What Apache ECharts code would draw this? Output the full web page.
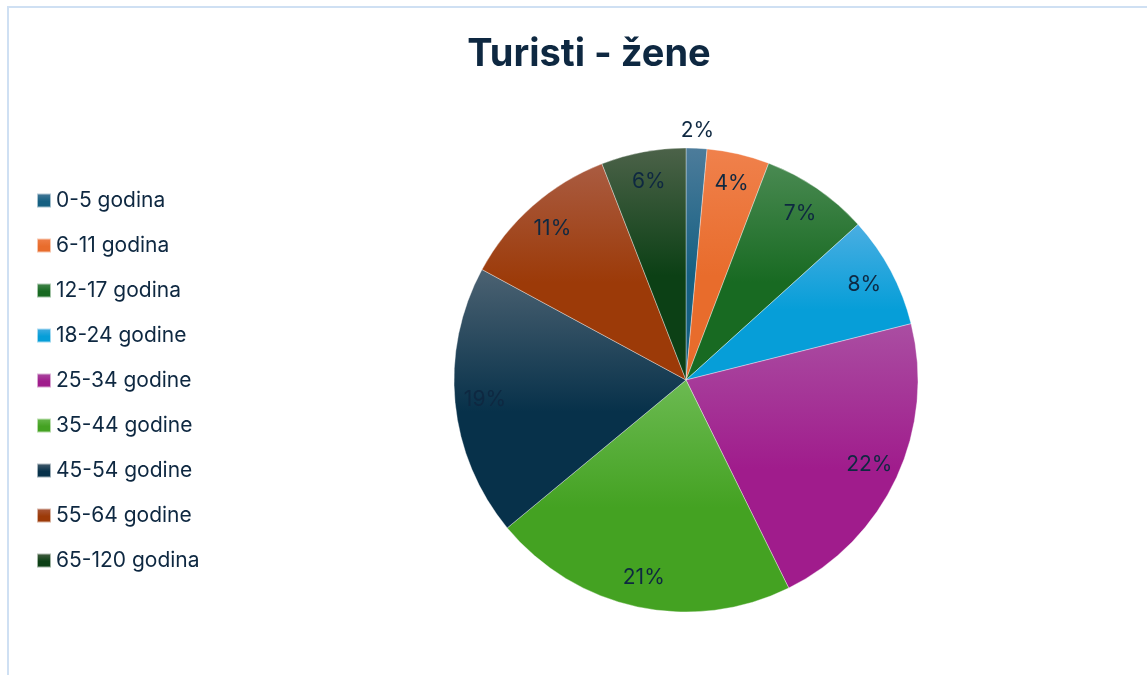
<!DOCTYPE html>
<html>
<head>
<meta charset="utf-8">
<script src="https://cdn.jsdelivr.net/npm/echarts@6/dist/echarts.min.js"></script>
<style>
  html, body { margin: 0; padding: 0; background: #fff; }
  #wrap { position: relative; width: 1147px; height: 675px; overflow: hidden; }
  #frame { position: absolute; left: 7px; top: 6px; width: 1200px; height: 700px;
           border-left: 2px solid #cfe0f3; border-top: 2px solid #cfe0f3; }
  #chart { position: absolute; left: 0; top: 0; width: 1147px; height: 675px; }
</style>
</head>
<body>
<div id="wrap">
  <div id="frame"></div>
  <div id="chart"></div>
</div>
<script>
// dobne skupine i udio (%)
const categories = ['0-5 godina', '6-11 godina', '12-17 godina', '18-24 godine', '25-34 godine',
                    '35-44 godine', '45-54 godine', '55-64 godine', '65-120 godina'];
const values = [1.45, 4.35, 7.5, 7.8, 21.6, 21.3, 18.9, 11.2, 5.9];
const labels = ['2%', '4%', '7%', '8%', '22%', '21%', '19%', '11%', '6%'];

// boje: [svjetlija gore, osnovna dolje]
const colors = [
    ['#4d7c9b', '#156082'],
    ['#f0814c', '#e86c2c'],
    ['#4a8a52', '#186a22'],
    ['#4aaee2', '#069ed8'],
    ['#aa4ea2', '#a01c8c'],
    ['#6cba52', '#44a222'],
    ['#4c6272', '#07314a'],
    ['#aa5c42', '#9c3a08'],
    ['#4c6249', '#0c4015']
];

const txt = '#0e2841';
const font = 'Inter, "Noto Sans", sans-serif';

const grad = (c) => new echarts.graphic.LinearGradient(0, 0, 0, 1, [
    { offset: 0, color: c[0] },
    { offset: 0.55, color: c[1] },
    { offset: 1, color: c[1] }
]);

const pieData = categories.map((name, i) => ({
    name: name,
    value: values[i],
    itemStyle: { color: grad(colors[i]) }
}));

// drugi (prozirni) prsten samo za oznake
const labelData = categories.map((name, i) => {
    let d = { name: name, value: values[i], itemStyle: { color: 'rgba(0,0,0,0)' } };
    if (i === 0) {
        d.label = { position: 'outside', distanceToLabelLine: 0 };
        d.labelLine = { show: false, length: 18, length2: 0 };
    }
    return d;
});

let myChart = echarts.init(document.getElementById('chart'));
let option = {
    animation: false,
    title: {
        text: 'Turisti - žene',
        left: 584,
        textAlign: 'center',
        top: 31,
        textStyle: { fontFamily: font, fontSize: 38, fontWeight: 'bold', color: txt }
    },
    legend: {
        orient: 'vertical',
        left: 36,
        top: 190,
        padding: 0,
        itemWidth: 14,
        itemHeight: 14,
        itemGap: 24,
        icon: 'rect',
        data: categories,
        textStyle: { fontFamily: font, fontSize: 21, lineHeight: 20, color: txt }
    },
    series: [
        {
            type: 'pie',
            center: [686, 380],
            radius: [0, 232],
            startAngle: 90,
            clockwise: true,
            avoidLabelOverlap: false,
            label: { show: false },
            labelLine: { show: false },
            itemStyle: { borderColor: 'rgba(255,255,255,0.6)', borderWidth: 0.6 },
            emphasis: { disabled: true },
            data: pieData
        },
        {
            type: 'pie',
            center: [686, 380],
            radius: [166, 232],
            startAngle: 90,
            clockwise: true,
            silent: true,
            avoidLabelOverlap: false,
            label: {
                show: true,
                position: 'inside',
                fontFamily: font,
                fontSize: 21,
                color: txt,
                formatter: (p) => labels[p.dataIndex]
            },
            labelLine: { show: false },
            labelLayout: (p) => p.dataIndex === 0 ? { align: 'center' } : {},
            emphasis: { disabled: true },
            data: labelData
        }
    ]
};
myChart.setOption(option);
</script>
</body>
</html>
